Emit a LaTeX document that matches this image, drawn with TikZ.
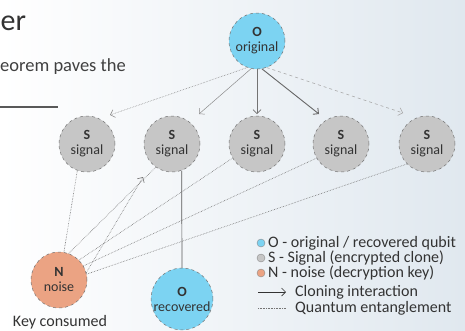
\documentclass[tikz,border=0pt]{standalone}
\usepackage{fontspec}
\setmainfont{Carlito}
\usetikzlibrary{arrows.meta}
\definecolor{qblue}{HTML}{7CD3F2}
\definecolor{qgray}{HTML}{C6C6C6}
\definecolor{qsalmon}{HTML}{EBA383}
\definecolor{bgright}{HTML}{E0E8EF}
\definecolor{txt}{HTML}{333333}
\begin{document}
\begin{tikzpicture}[x=1pt,y=-1pt,
  qnode/.style={circle, minimum size=56pt, inner sep=0pt, draw=black!55, dashed, line width=0.5pt,
    align=center, font=\fontsize{14}{15}\selectfont, text=txt},
  orig/.style={qnode, fill=qblue},
  sig/.style={qnode, fill=qgray},
  noisenode/.style={qnode, fill=qsalmon},
  tip/.style={-{Straight Barb[length=4pt,width=8pt]}},
  ent/.style={densely dotted, draw=black!55, line width=0.6pt},
  legtext/.style={anchor=west, font=\fontsize{16}{16}\selectfont, text=txt, inner sep=0pt},
  dot/.style={circle, minimum size=8pt, inner sep=0pt, draw=black!45, line width=0.4pt}
]
\useasboundingbox (0,0) rectangle (465,330);
\clip (0,0) rectangle (465,330);
\shade[left color=white, right color=bgright] (0,0) rectangle (465,330);

% header fragments
\node[anchor=base west, inner sep=0pt, font=\fontsize{30}{30}\selectfont, text=txt] (title) at (0.5,30) {er};
\node[anchor=base west, inner sep=0pt, font=\fontsize{18.5}{20}\selectfont, text=black!75] (sub) at (0,71) {eorem paves the};
\draw[line width=1.6pt, black!65] (0,107) coordinate (ruleA) -- (58,107) coordinate (ruleB);

% nodes
\node[orig] (O) at (257,41) {\textbf{O}\\original};
\node[sig] (S1) at (87,144) {\textbf{S}\\signal};
\node[sig] (S2) at (172,144) {\textbf{S}\\signal};
\node[sig] (S3) at (257,144) {\textbf{S}\\signal};
\node[sig] (S4) at (341,144) {\textbf{S}\\signal};
\node[sig] (S5) at (427,144) {\textbf{S}\\signal};
\node[noisenode] (N) at (59,280) {\textbf{N}\\noise};
\node[orig] (R) at (182,299) {\textbf{O}\\recovered};
\node[inner sep=0pt, font=\fontsize{16}{16}\selectfont, text=txt] (key) at (60,322) {Key consumed};

% arrow tips (free ends)
\coordinate (t1) at (110,115);
\coordinate (t2) at (199,114);
\coordinate (t3) at (257,114);
\coordinate (t4) at (319,114);
\coordinate (t5) at (403,113);
\coordinate (t6) at (143,177);

% cloning arrows from original
\draw[tip, densely dotted, black!45, line width=0.6pt] (O.250) -- (t1);
\draw[tip, black!45, line width=0.5pt] (O.258) -- (t2);
\draw[tip, black!55, line width=0.7pt] (O.south) -- (t3);
\draw[tip, black!60, line width=0.9pt] (O.280) -- (t4);
\draw[tip, dashed, black!35, line width=0.5pt] (O.290) -- (t5);

% entanglement lines from noise
\draw[ent] (N.80) -- (S1.250);
\draw[ent] (N.70) -- (S2.235);
\draw[ent, tip] (N.15) -- (t6);
\draw[ent] (N.45) -- (S3.210);
\draw[ent] (N.30) -- (S4.210);
\draw[ent] (N.12) -- (S5.225);

% recovery
\draw[black!65, line width=0.7pt] (S2.290) -- (R.north);

% legend
\node[dot, fill=qblue] (d1) at (261,243) {};
\node[legtext] (l1) at (268,243) {O - original / recovered qubit};
\node[dot, fill=qgray] (d2) at (261,258) {};
\node[legtext] (l2) at (268,258) {S - Signal (encrypted clone)};
\node[dot, fill=qsalmon] (d3) at (261,273) {};
\node[legtext] (l3) at (268,273) {N - noise (decryption key)};
\coordinate (a1) at (258,292);
\coordinate (a2) at (286,292);
\draw[tip, black!80, line width=0.7pt] (a1) -- (a2);
\node[legtext] (l4) at (295,292) {Cloning interaction};
\coordinate (b1) at (258,308);
\coordinate (b2) at (286,308);
\draw[ent] (b1) -- (b2);
\node[legtext] (l5) at (295,308) {Quantum entanglement};
\end{tikzpicture}
\end{document}
